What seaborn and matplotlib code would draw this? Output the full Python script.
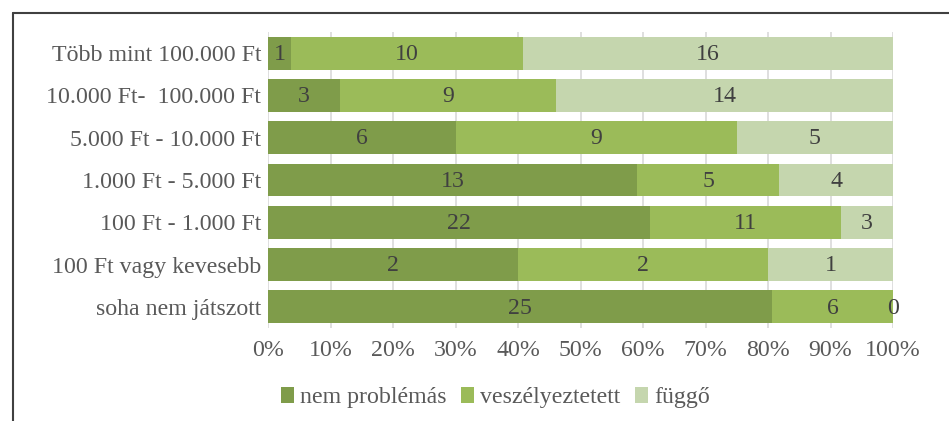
import matplotlib
matplotlib.use("Agg")
import matplotlib.pyplot as plt
import seaborn as sns
import pandas as pd
import numpy as np
from matplotlib.lines import Line2D
from matplotlib.patches import Patch

categories = ["Több mint 100.000 Ft", "10.000 Ft-  100.000 Ft", "5.000 Ft - 10.000 Ft",
              "1.000 Ft - 5.000 Ft", "100 Ft - 1.000 Ft", "100 Ft vagy kevesebb",
              "soha nem játszott"]
series_names = ["nem problémás", "veszélyeztetett", "függő"]
nem_problemas = [1, 3, 6, 13, 22, 2, 25]
veszelyeztetett = [10, 9, 9, 5, 11, 2, 6]
fuggo = [16, 14, 5, 4, 3, 1, 0]
x_ticks = [0, 10, 20, 30, 40, 50, 60, 70, 80, 90, 100]
x_tick_labels = [f"{t}%" for t in x_ticks]

colors = ["#7F9C4A", "#9BBB59", "#C5D6AE"]

sns.set_theme(style="white")
plt.rcParams['font.family'] = ['Liberation Serif', 'DejaVu Serif']

vals = np.array([nem_problemas, veszelyeztetett, fuggo], dtype=float)
totals = vals.sum(axis=0)
pct = vals / totals * 100
cum = np.cumsum(pct, axis=0)

fig = plt.figure(figsize=(9.49, 4.21), dpi=100)
ax = fig.add_axes([268/949, 1-328/421, (893-268)/949, (328-32)/421])

FS = 17.2

# draw cumulative bars, largest first so smaller stacks overlay
for i in [2, 1, 0]:
    df = pd.DataFrame({"cat": categories, "val": cum[i]})
    sns.barplot(data=df, y="cat", x="val", orient="h", color=colors[i],
                saturation=1, width=0.78, ax=ax, zorder=2, linewidth=0,
                edgecolor="none")

ax.set_xlim(0, 100)
ax.set_ylim(6.5, -0.5)
ax.set_xticks(x_ticks)
ax.set_xticklabels(x_tick_labels)
ax.set_xlabel("")
ax.set_ylabel("")
ax.grid(axis="x", color="#D9D9D9", linewidth=1.2, zorder=0)
ax.set_axisbelow(True)
for s in ax.spines.values():
    s.set_visible(False)
ax.tick_params(axis="y", length=0, labelsize=FS, labelcolor="#595959", pad=5)
ax.tick_params(axis="x", length=0, labelsize=FS, labelcolor="#595959", pad=9)

# value labels
for i in range(3):
    starts = cum[i] - pct[i]
    for j in range(len(categories)):
        ax.text(starts[j] + pct[i][j] / 2, j + 0.03, f"{int(vals[i][j])}", ha="center",
                va="center", fontsize=FS, color="#404040", zorder=5)

handles = [Patch(facecolor=c, edgecolor="none") for c in colors]
fig.legend(handles, series_names, loc="center", bbox_to_anchor=(0.522, 0.055), ncol=3,
           frameon=False, fontsize=FS, labelcolor="#595959", handlelength=0.55,
           handleheight=0.6, handletextpad=0.25, columnspacing=0.6)

# outer frame lines
fig.add_artist(Line2D([13/949, 1.0], [1-13/421, 1-13/421], transform=fig.transFigure,
                      color="#404040", linewidth=1.5))
fig.add_artist(Line2D([13/949, 13/949], [1-13/421, 0], transform=fig.transFigure,
                      color="#404040", linewidth=1.5))

fig.savefig("out.png", dpi=100)
